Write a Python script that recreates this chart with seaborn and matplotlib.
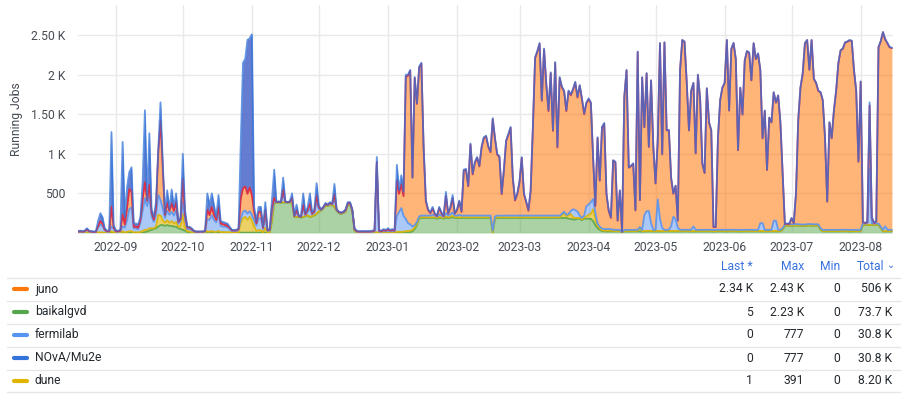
import numpy as np
import pandas as pd
import matplotlib
matplotlib.use("Agg")
import matplotlib.pyplot as plt
import matplotlib.dates as mdates
from matplotlib.lines import Line2D
import seaborn as sns

# daily samples, 2022-08-15 .. 2023-08-15 (366 points)
start_day = "2022-08-15"

baikalgvd = [
    2, 2, 2, 2, 3, 3, 2, 2, 2, 3,
    3, 3, 2, 2, 2, 3, 3, 2, 2, 2,
    3, 3, 3, 3, 3, 3, 3, 3, 3, 5,
    10, 20, 30, 40, 50, 60, 80, 100, 100, 90,
    100, 90, 90, 80, 80, 60, 50, 40, 30, 10,
    10, 5, 5, 3, 3, 3, 3, 5, 5, 5,
    5, 5, 5, 5, 5, 5, 5, 5, 5, 3,
    3, 3, 3, 5, 5, 5, 5, 5, 5, 5,
    5, 5, 5, 5, 5, 5, 5, 150, 380, 380,
    385, 380, 385, 385, 380, 385, 380, 200, 200, 200,
    195, 200, 210, 220, 200, 210, 220, 240, 270, 280,
    310, 340, 340, 350, 350, 330, 280, 250, 240, 250,
    270, 350, 360, 280, 30, 5, 3, 3, 3, 3,
    3, 3, 3, 3, 3, 3, 3, 3, 3, 3,
    3, 3, 3, 5, 5, 5, 5, 5, 5, 10,
    20, 50, 100, 180, 190, 190, 190, 190, 190, 190,
    190, 180, 190, 190, 180, 190, 190, 190, 200, 190,
    190, 190, 190, 190, 190, 190, 190, 190, 190, 190,
    190, 190, 190, 190, 190, 190, 0, 180, 190, 190,
    190, 190, 190, 190, 190, 190, 190, 190, 190, 190,
    190, 190, 190, 190, 190, 190, 190, 190, 190, 190,
    190, 190, 190, 190, 190, 190, 190, 190, 190, 190,
    180, 180, 170, 170, 180, 180, 160, 180, 180, 180,
    180, 150, 100, 60, 40, 25, 20, 20, 20, 20,
    20, 20, 20, 20, 5, 20, 20, 20, 20, 20,
    20, 22, 20, 18, 20, 20, 22, 20, 20, 20,
    20, 20, 18, 20, 20, 22, 20, 20, 20, 20,
    20, 20, 20, 22, 20, 20, 18, 20, 20, 20,
    20, 22, 20, 20, 20, 18, 20, 20, 22, 20,
    20, 20, 20, 20, 22, 20, 20, 18, 20, 20,
    20, 20, 22, 20, 20, 20, 20, 20, 18, 20,
    20, 20, 20, 20, 20, 20, 40, 90, 90, 90,
    90, 90, 95, 90, 90, 85, 90, 90, 95, 90,
    90, 90, 90, 40, 20, 20, 20, 20, 20, 20,
    20, 20, 20, 22, 20, 20, 18, 20, 20, 20,
    20, 20, 100, 100, 100, 100, 100, 100, 100, 100,
    60, 20, 20, 20, 20, 20,
]

dune = [
    0, 0, 0, 0, 5, 0, 0, 0, 0, 5,
    5, 5, 0, 0, 0, 20, 5, 0, 0, 0,
    20, 5, 10, 20, 20, 5, 5, 5, 10, 20,
    30, 20, 30, 20, 10, 20, 150, 120, 60, 40,
    60, 40, 60, 40, 60, 20, 40, 200, 40, 10,
    10, 5, 2, 0, 0, 0, 0, 2, 20, 10,
    20, 10, 10, 20, 5, 5, 5, 5, 5, 2,
    2, 2, 5, 120, 180, 200, 160, 200, 150, 80,
    20, 30, 30, 5, 60, 2, 2, 20, 10, 5,
    5, 5, 5, 5, 5, 5, 5, 5, 5, 5,
    5, 5, 5, 5, 5, 5, 5, 5, 5, 5,
    5, 5, 5, 5, 5, 5, 5, 5, 5, 5,
    5, 5, 5, 5, 5, 2, 2, 2, 2, 2,
    2, 2, 2, 2, 5, 2, 2, 2, 2, 2,
    2, 2, 2, 10, 10, 10, 10, 20, 20, 20,
    20, 20, 20, 10, 10, 10, 10, 10, 10, 10,
    10, 10, 15, 10, 10, 20, 10, 15, 20, 10,
    10, 10, 10, 10, 10, 10, 10, 10, 10, 10,
    10, 10, 10, 10, 10, 10, 10, 10, 10, 10,
    10, 10, 10, 10, 10, 10, 10, 10, 10, 10,
    10, 10, 10, 10, 10, 10, 10, 10, 10, 10,
    10, 10, 10, 10, 10, 10, 10, 30, 60, 20,
    40, 60, 30, 20, 10, 10, 10, 10, 30, 50,
    60, 150, 80, 30, 20, 10, 10, 10, 10, 10,
    5, 5, 5, 5, 2, 5, 5, 5, 5, 5,
    5, 5, 40, 5, 5, 5, 5, 5, 5, 5,
    5, 5, 5, 5, 5, 5, 5, 5, 5, 5,
    5, 5, 5, 5, 5, 5, 5, 5, 5, 5,
    5, 5, 5, 5, 5, 5, 5, 5, 5, 5,
    5, 5, 5, 5, 5, 5, 5, 5, 5, 5,
    5, 5, 5, 5, 5, 5, 5, 5, 5, 5,
    5, 5, 5, 5, 5, 5, 5, 5, 5, 5,
    5, 5, 5, 5, 5, 5, 5, 5, 5, 5,
    5, 5, 5, 5, 5, 5, 5, 5, 5, 5,
    5, 5, 5, 5, 5, 5, 5, 5, 5, 5,
    5, 5, 5, 5, 5, 5, 5, 5, 5, 5,
    5, 5, 5, 5, 5, 5,
]

fermilab = [
    12, 15, 12, 15, 30, 15, 12, 10, 10, 60,
    100, 80, 30, 15, 15, 60, 40, 15, 15, 20,
    60, 60, 150, 280, 300, 50, 50, 40, 120, 250,
    400, 300, 400, 150, 80, 150, 250, 200, 150, 60,
    120, 100, 120, 100, 150, 40, 60, 150, 100, 30,
    30, 30, 12, 10, 10, 10, 10, 12, 150, 150,
    200, 150, 120, 200, 80, 70, 70, 60, 40, 20,
    20, 20, 30, 60, 80, 80, 80, 70, 70, 80,
    70, 150, 150, 40, 150, 20, 25, 80, 20, 5,
    5, 5, 100, 5, 5, 5, 40, 5, 50, 5,
    5, 100, 10, 40, 100, 20, 30, 150, 30, 5,
    5, 15, 5, 15, 5, 100, 5, 5, 5, 5,
    10, 15, 10, 5, 10, 10, 8, 8, 8, 8,
    8, 8, 10, 15, 850, 15, 10, 20, 15, 25,
    15, 20, 15, 200, 250, 300, 200, 150, 100, 80,
    40, 30, 20, 20, 20, 20, 20, 20, 20, 30,
    20, 15, 30, 20, 15, 40, 20, 30, 40, 20,
    20, 30, 20, 20, 20, 20, 20, 20, 20, 20,
    20, 20, 20, 20, 20, 20, 20, 20, 20, 20,
    20, 20, 20, 20, 20, 20, 20, 20, 20, 20,
    20, 20, 20, 20, 20, 20, 20, 20, 20, 20,
    20, 20, 20, 20, 20, 20, 20, 20, 20, 20,
    20, 40, 100, 100, 80, 30, 20, 30, 130, 130,
    150, 130, 80, 30, 20, 20, 20, 20, 20, 20,
    15, 15, 15, 15, 5, 15, 15, 15, 15, 15,
    15, 15, 15, 15, 200, 250, 250, 100, 15, 15,
    400, 150, 40, 15, 15, 15, 60, 180, 150, 40,
    15, 15, 15, 15, 15, 15, 60, 15, 15, 15,
    15, 15, 15, 15, 15, 15, 15, 15, 15, 15,
    15, 15, 15, 15, 15, 15, 15, 15, 15, 15,
    15, 15, 15, 15, 15, 15, 100, 100, 15, 15,
    15, 15, 130, 130, 15, 15, 15, 15, 15, 15,
    15, 15, 15, 15, 15, 15, 15, 15, 15, 15,
    15, 15, 15, 15, 15, 15, 15, 15, 15, 15,
    15, 15, 15, 15, 15, 15, 15, 15, 15, 15,
    15, 15, 15, 15, 15, 700, 15, 15, 15, 15,
    15, 15, 60, 15, 15, 15,
]

juno = [
    3, 5, 3, 5, 10, 5, 3, 3, 3, 20,
    40, 30, 10, 5, 5, 250, 20, 5, 5, 8,
    150, 40, 150, 250, 200, 20, 20, 20, 40, 150,
    200, 70, 150, 50, 30, 100, 550, 1000, 500, 40,
    100, 50, 100, 60, 100, 20, 30, 300, 60, 20,
    20, 10, 6, 4, 4, 4, 4, 6, 120, 60,
    100, 60, 30, 100, 30, 30, 20, 20, 15, 8,
    8, 8, 12, 250, 300, 300, 250, 300, 250, 100,
    30, 80, 80, 15, 80, 8, 10, 80, 30, 0,
    0, 0, 60, 0, 0, 0, 20, 5, 30, 5,
    0, 50, 10, 30, 60, 10, 20, 80, 20, 5,
    5, 10, 5, 10, 5, 60, 5, 5, 5, 5,
    5, 10, 5, 5, 5, 5, 5, 5, 5, 5,
    5, 5, 7, 10, 40, 10, 7, 12, 10, 15,
    10, 12, 10, 450, 230, 300, 250, 1800, 1860, 1940,
    620, 1860, 1490, 1880, 1920, 850, 180, 70, 30, 80,
    20, 10, 80, 30, 10, 220, 25, 80, 180, 25,
    70, 170, 45, 570, 580, 370, 900, 520, 670, 730,
    620, 860, 980, 1000, 870, 800, 1410, 980, 770, 740,
    270, 570, 940, 1020, 1110, 470, 190, 270, 420, 730,
    270, 170, 60, 310, 1110, 1990, 2070, 2170, 1450, 2100,
    1660, 1320, 1800, 1070, 1930, 860, 1740, 1600, 1520, 1310,
    1550, 1460, 1510, 1610, 1440, 1640, 1500, 1280, 1300, 1330,
    1250, 520, 80, 1080, 580, 1275, 1330, 440, 230, 140,
    875, 855, 115, 495, 5, 1675, 2015, 785, 805, 835,
    245, 2245, 340, 1925, 1110, 1740, 810, 1800, 1055, 585,
    740, 2220, 930, 2365, 1255, 1255, 610, 290, 420, 90,
    2015, 2395, 2375, 1855, 1255, 1755, 1810, 965, 1955, 1655,
    835, 715, 1785, 1355, 1255, 35, 35, 1165, 1635, 1795,
    1855, 2395, 1505, 2285, 2355, 2155, 1005, 1795, 1455, 2135,
    2255, 2235, 1885, 2355, 2155, 2225, 1930, 1070, 1505, 755,
    1415, 1355, 1620, 1490, 1695, 1355, 695, 5, 5, 5,
    75, 15, 385, 1315, 1725, 1905, 2285, 2325, 1945, 2325,
    1835, 1785, 1685, 1715, 1635, 1165, 355, 1355, 1155, 1505,
    1755, 2105, 2265, 2285, 2365, 2375, 2395, 2385, 2015, 1755,
    860, 1870, 15, 5, 15, 805, 75, 5, 25, 2225,
    2340, 2495, 2360, 2355, 2305, 2295,
]

nova_mu2e = [
    8, 8, 8, 8, 12, 7, 8, 5, 5, 62,
    102, 82, 18, 8, 8, 942, 32, 8, 8, 10,
    917, 92, 267, 217, 307, 42, 42, 42, 27, 225,
    910, 10, 650, 40, 30, 70, 20, 230, 90, 20,
    160, 20, 180, 50, 110, 10, 20, 310, 60, 10,
    10, 10, 5, 3, 3, 3, 3, 5, 205, 125,
    175, 125, 35, 155, 30, 30, 30, 30, 15, 7,
    7, 7, 10, 715, 1585, 1615, 1945, 1885, 2035, 65,
    25, 65, 65, 15, 95, 5, 8, 90, 360, 0,
    5, 0, 150, 5, 0, 5, 55, 5, 75, 5,
    5, 145, 15, 35, 135, 15, 25, 155, 25, 5,
    5, 10, 5, 10, 5, 125, 5, 5, 5, 5,
    10, 10, 10, 5, 10, 8, 7, 7, 7, 7,
    7, 7, 8, 10, 62, 10, 8, 13, 10, 15,
    10, 13, 10, 195, 45, 115, 55, 25, 15, 10,
    0, 10, 10, 10, 10, 20, 20, 10, 10, 20,
    10, 5, 15, 10, 5, 50, 5, 15, 40, 5,
    10, 10, 10, 10, 10, 10, 10, 10, 10, 10,
    10, 10, 10, 10, 10, 10, 10, 10, 10, 10,
    10, 10, 10, 10, 10, 10, 10, 10, 10, 10,
    10, 10, 10, 10, 10, 10, 10, 10, 10, 10,
    10, 10, 10, 10, 10, 10, 10, 10, 10, 10,
    10, 10, 10, 10, 10, 10, 10, 10, 10, 10,
    10, 10, 10, 10, 10, 10, 10, 10, 10, 10,
    5, 5, 5, 5, 3, 5, 5, 5, 5, 5,
    5, 5, 5, 5, 5, 5, 5, 5, 5, 5,
    5, 5, 5, 5, 5, 5, 5, 5, 5, 5,
    5, 5, 5, 5, 5, 5, 5, 5, 5, 5,
    5, 5, 5, 5, 5, 5, 5, 5, 5, 5,
    5, 5, 5, 5, 5, 5, 5, 5, 5, 5,
    5, 5, 5, 5, 5, 5, 5, 5, 5, 5,
    5, 5, 5, 5, 5, 5, 5, 5, 5, 5,
    5, 5, 5, 5, 5, 5, 5, 5, 5, 5,
    5, 5, 5, 5, 5, 5, 5, 5, 5, 5,
    5, 5, 5, 5, 5, 5, 5, 5, 5, 5,
    5, 5, 5, 5, 5, 40, 5, 5, 5, 5,
    5, 5, 5, 5, 5, 5,
]

y_ticks = [0, 500, 1000, 1500, 2000, 2500]
y_tick_labels = ["", "500", "1 K", "1.50 K", "2 K", "2.50 K"]

# legend table (as shown by grafana)
legend_names = ["juno", "baikalgvd", "fermilab", "NOvA/Mu2e", "dune"]
legend_last = ["2.34 K", "5", "0", "0", "1"]
legend_max = ["2.43 K", "2.23 K", "777", "777", "391"]
legend_min = ["0", "0", "0", "0", "0"]
legend_total = ["506 K", "73.7 K", "30.8 K", "30.8 K", "8.20 K"]
legend_cols = ["Last *", "Max", "Min", "Total"]

colors = {
    "juno": "#FF780A",
    "baikalgvd": "#56A64B",
    "fermilab": "#5794F2",
    "NOvA/Mu2e": "#3274D9",
    "dune": "#E0B400",
}

# ---------------------------------------------------------------
sns.set_theme(style="white")
plt.rcParams["font.family"] = ["Roboto", "DejaVu Sans"]

W, H = 904, 398
fig = plt.figure(figsize=(W / 100, H / 100), dpi=100)
ax = fig.add_axes([78 / W, 1 - 233 / H, (893 - 78) / W, (233 - 5) / H])

dates = pd.date_range(start_day, periods=len(juno), freq="D")
df = pd.DataFrame({
    "time": dates,
    "baikalgvd": baikalgvd,
    "dune": dune,
    "fermilab": fermilab,
    "juno": juno,
    "NOvA/Mu2e": nova_mu2e,
})

# grafana stacking order, bottom to top
stack_order = ["baikalgvd", "dune", "fermilab", "juno", "NOvA/Mu2e"]
fill_colors = dict(colors, **{"NOvA/Mu2e": "#4a66c8"})
fill_alpha = {"baikalgvd": 0.5, "dune": 0.6, "fermilab": 0.5, "juno": 0.55, "NOvA/Mu2e": 0.85}
line_colors = {
    "baikalgvd": "#56A64B",
    "dune": "#E0B400",
    "fermilab": "#5794F2",
    "juno": "#E02F44",
    "NOvA/Mu2e": "#3274D9",
}
line_alpha = {"baikalgvd": 0.9, "dune": 0.9, "fermilab": 0.9, "juno": 1.0, "NOvA/Mu2e": 0.75}

below = np.zeros(len(df))
for name in stack_order:
    level = below + df[name].to_numpy()
    df[name + "_lvl"] = level
    ax.fill_between(df["time"], below, level, color=fill_colors[name],
                    alpha=fill_alpha[name], linewidth=0, zorder=2)
    below = level

for name in stack_order:
    sns.lineplot(data=df, x="time", y=name + "_lvl", ax=ax, color=line_colors[name],
                 linewidth=1.3, alpha=line_alpha[name], estimator=None, zorder=3)

ax.set_xlim(dates[0], dates[-1] + pd.Timedelta(hours=12))
ax.set_ylim(0, 2880)
ax.set_yticks(y_ticks)
ax.set_yticklabels(y_tick_labels)
ax.xaxis.set_major_locator(mdates.MonthLocator())
ax.xaxis.set_major_formatter(mdates.DateFormatter("%Y-%m"))
ax.grid(True, color="#e9e9e9", linewidth=1, zorder=0)
ax.set_axisbelow(True)
for s in ax.spines.values():
    s.set_visible(False)
ax.tick_params(axis="both", length=0, labelsize=8.7, colors="#464c54")
ax.tick_params(axis="x", pad=6)
ax.tick_params(axis="y", pad=9)
ax.set_xlabel("")
ax.set_ylabel("Running Jobs", fontsize=8.7, color="#464c54", labelpad=6)


def fy(y):
    return 1 - y / H


# legend table
header_y = 266
row_y = [289, 312, 335, 358, 380.5]
sep_y = [277.5, 300.5, 323.5, 346.5, 369.5, 392]
col_right = [753, 804, 840, 884]
val_right = [753, 804, 840, 892]
txt = "#24292e"
hdr = "#3871dc"

for y in sep_y:
    fig.add_artist(Line2D([7 / W, 900 / W], [fy(y), fy(y)], color="#e6e6e6", lw=1))

for i, c in enumerate(legend_cols):
    fig.text(col_right[i] / W, fy(header_y), c, ha="right", va="center",
             fontsize=8.7, color=hdr)
fig.text(887 / W, fy(header_y - 1), "⌄", ha="left", va="center", fontsize=7, color=hdr,
         family=["DejaVu Sans"])

for i, name in enumerate(legend_names):
    y = row_y[i]
    fig.add_artist(Line2D([14 / W, 27 / W], [fy(y), fy(y)], color=colors[name],
                          lw=3, solid_capstyle="round"))
    fig.text(35 / W, fy(y), name, ha="left", va="center", fontsize=8.7, color=txt)
    vals = [legend_last[i], legend_max[i], legend_min[i], legend_total[i]]
    for j, v in enumerate(vals):
        fig.text(val_right[j] / W, fy(y), v, ha="right", va="center",
                 fontsize=8.7, color=txt)

fig.savefig("out.png", dpi=100)
